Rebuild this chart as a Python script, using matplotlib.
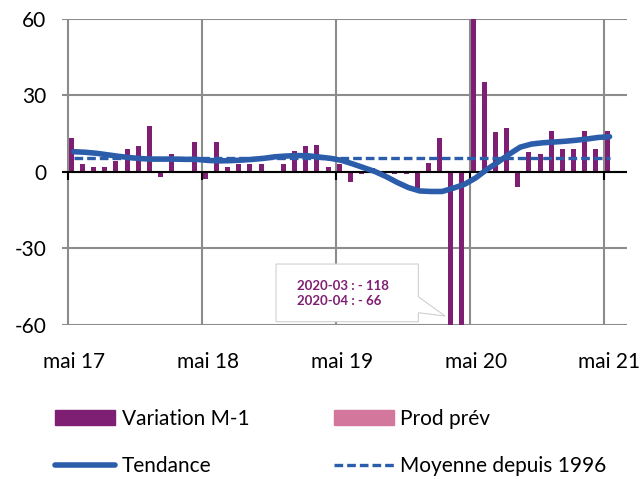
import numpy as np
import matplotlib
matplotlib.use('Agg')
import matplotlib.pyplot as plt
from matplotlib.patches import Polygon, Patch
from matplotlib.lines import Line2D

plt.rcParams['font.family'] = ['Lato', 'DejaVu Sans']
plt.rcParams['axes.unicode_minus'] = False

# monthly data, mai 17 -> mai 21
variation = [13, 3, 2, 2, 4, 9, 10, 18, -2, 7, 0, 11.5,
             -3, 11.5, 2, 3, 3, 3, 0, 3, 8, 10, 10.5, 2,
             3, -4, -1, 1.3, -1, -1, -1, -8, 3.5, 13, -118, -66,
             78, 35, 15.4, 17, -6, 7.5, 6.8, 16, 9, 9, 16, 9,
             16]
tendance = [7.8, 7.6, 7.2, 6.6, 6.0, 5.5, 5.1, 4.9, 4.9, 4.9, 4.8, 4.8,
            4.4, 4.2, 4.3, 4.5, 4.8, 5.2, 5.8, 6.1, 6.3, 6.2, 5.7, 5.2,
            4.4, 3.0, 1.5, 0.0, -2.0, -4.3, -6.3, -7.6, -7.8, -7.8, -6.5, -5.0,
            -2.5, 0.8, 3.7, 6.8, 9.6, 10.8, 11.3, 11.6, 11.9, 12.3, 12.8, 13.4,
            13.7]
moyenne = 5.3
prod_index = [49]  # juin 21
prod_prev = [-0.7]

tick_months = [0, 12, 24, 36, 48]
tick_labels = ['mai 17', 'mai 18', 'mai 19', 'mai 20', 'mai 21']
y_ticks = [-60, -30, 0, 30, 60]

purple = '#7F1F73'
pink = '#D4779C'
blue = '#2B5DAB'
grid_col = '#8C8C8C'

x = np.arange(len(variation))
bounds = np.array(tick_months) - 0.5

fig = plt.figure(figsize=(6.44, 4.79), dpi=100)
ax = fig.add_axes([0.0958, 0.3225, 0.8784, 0.6385])

ax.bar(x - 0.45, variation, width=0.45, align='edge', color=purple, zorder=2)
ax.bar(prod_index, prod_prev, width=0.45, align='edge', color=pink, zorder=2)
ax.plot(x, tendance, color=blue, lw=4, solid_capstyle='round', zorder=4)
ax.hlines(moyenne, x[0], x[-1], color=blue, lw=2.4, linestyles=(0, (2.6, 1.2)), zorder=4)

ax.axhline(0, color='black', lw=1.5, zorder=3)
ax.vlines(bounds, -3.1, 0, color='black', lw=1.5, zorder=3)

ax.set_xlim(-1.09, 49.6)
ax.set_ylim(-60, 60)
ax.set_yticks(y_ticks)
ax.set_xticks(tick_months)
ax.set_xticklabels(tick_labels)
ax.set_xticks(bounds, minor=True)
ax.grid(axis='y', color=grid_col, lw=1.5, zorder=1)
ax.grid(axis='x', which='minor', color=grid_col, lw=1.5, zorder=1)
ax.tick_params(axis='both', which='both', length=0, labelsize=15)
ax.tick_params(axis='x', pad=20)
ax.tick_params(axis='y', pad=11)
for s in ax.spines.values():
    s.set_visible(False)

# callout box
box = Polygon([(0.3789, 0.1978), (0.6305, 0.1978), (0.6305, 0.0909), (0.6777, 0.0278),
               (0.6305, 0.0386), (0.6305, 0.0092), (0.3789, 0.0092)],
              closed=True, transform=ax.transAxes, facecolor='white',
              edgecolor='#D0D0D0', lw=0.8, zorder=5)
ax.add_patch(box)
ax.text(0.4155, 0.1004, '2020-03 : - 118\n2020-04 : - 66', transform=ax.transAxes,
        color=purple, fontsize=9.5, fontweight='bold', va='center', ha='left',
        linespacing=1.3, zorder=6)

handles = [Patch(color=purple, label='Variation M-1'),
           Line2D([], [], color=blue, lw=4, solid_capstyle='round', label='Tendance'),
           Patch(color=pink, label='Prod prév'),
           Line2D([], [], color=blue, lw=2.4, ls=(0, (2.6, 1.2)), label='Moyenne depuis 1996')]
fig.legend(handles=handles, ncol=2, loc='upper left', bbox_to_anchor=(55 / 644, 1 - 409 / 479),
           frameon=False, fontsize=15, handlelength=2.9, handletextpad=0.3,
           columnspacing=4.05, labelspacing=1.3, borderpad=0, borderaxespad=0)

fig.savefig('out.png', dpi=100)
